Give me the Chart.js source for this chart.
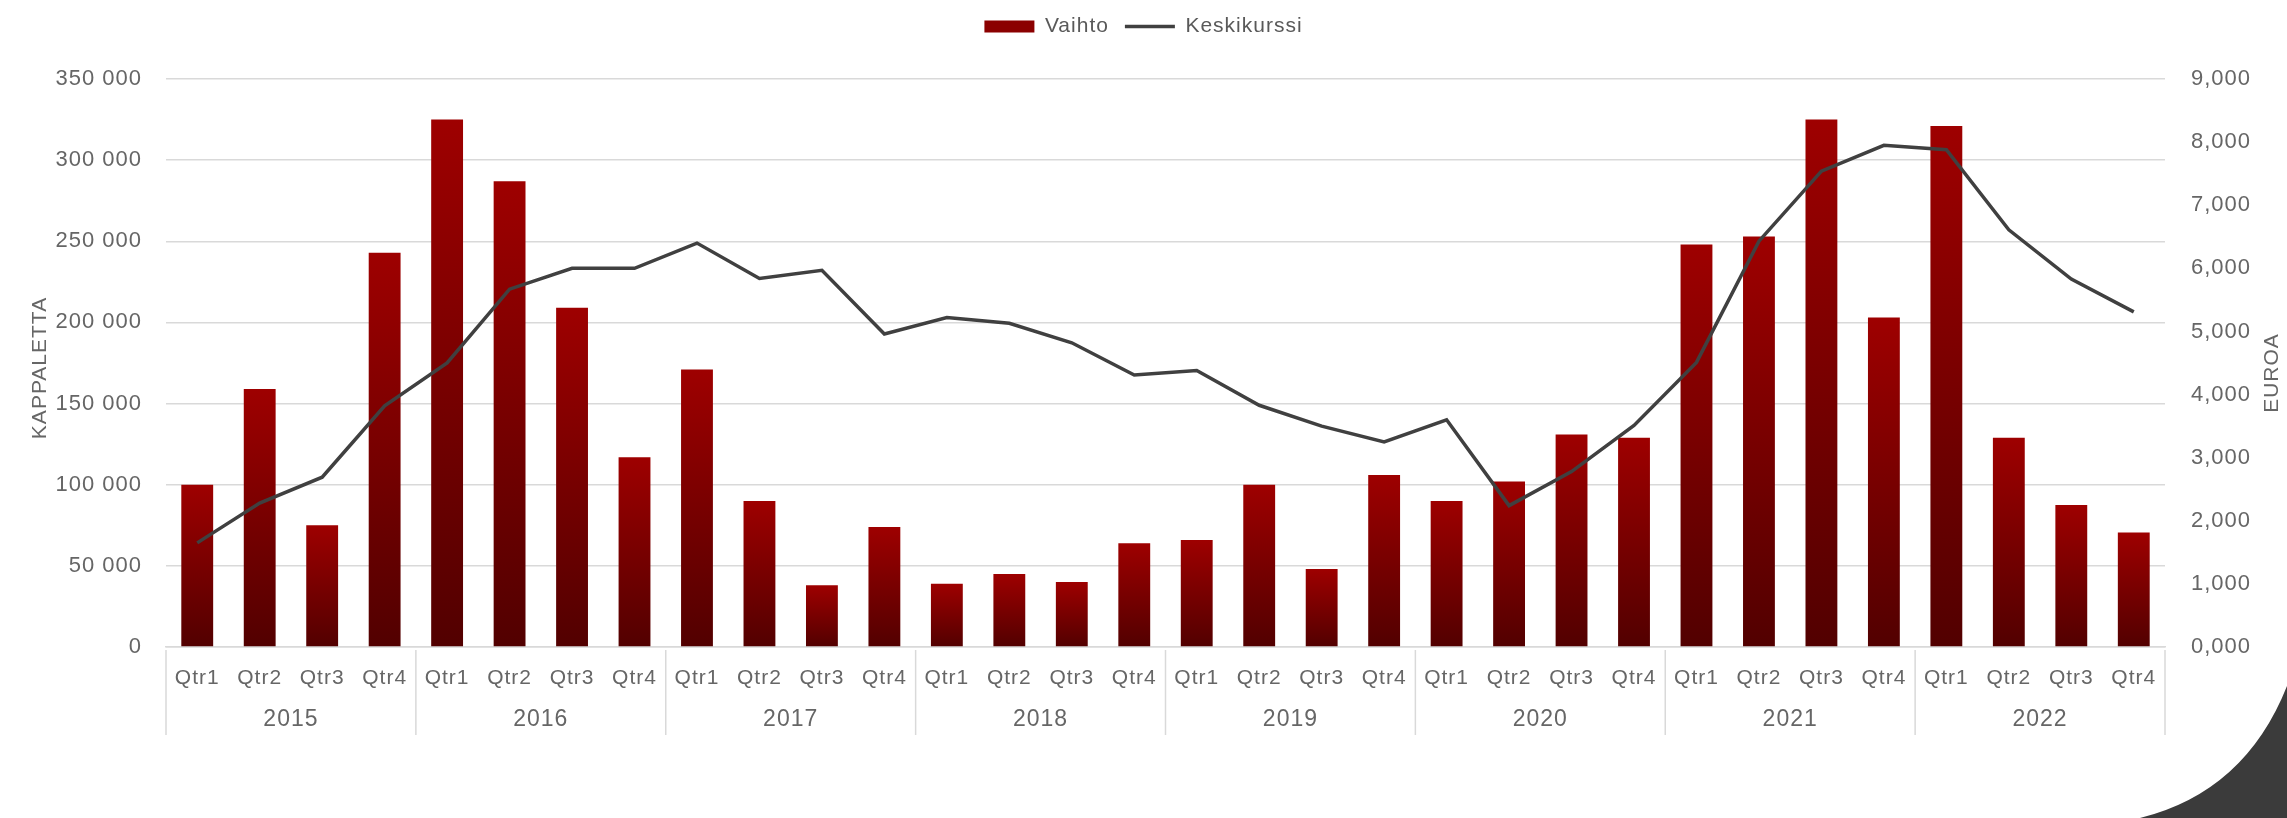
<!DOCTYPE html>
<html>
<head>
<meta charset="utf-8">
<script src="https://cdn.jsdelivr.net/npm/chart.js@4.4.1/dist/chart.umd.min.js"></script>
<style>
  body { margin: 0; background: #fff; }
  canvas { display: block; }
</style>
</head>
<body>
<canvas id="chart" width="2287" height="818"></canvas>
<script>
const years = ['2015', '2016', '2017', '2018', '2019', '2020', '2021', '2022'];
const quarters = ['Qtr1', 'Qtr2', 'Qtr3', 'Qtr4'];

// Vaihto (kpl), neljännesvuosittain 2015 Q1 - 2022 Q4
const vaihto = [
  100000, 159000, 75000, 243000,
  325000, 287000, 209000, 117000,
  171000, 90000, 38000, 74000,
  39000, 45000, 40000, 64000,
  66000, 100000, 48000, 106000,
  90000, 102000, 131000, 129000,
  248000, 253000, 325000, 203000,
  321000, 129000, 87500, 70500
];

// Keskikurssi (euroa)
const keskikurssi = [
  1.65, 2.28, 2.69, 3.82,
  4.50, 5.67, 6.00, 6.00,
  6.40, 5.84, 5.97, 4.96,
  5.22, 5.13, 4.82, 4.31,
  4.38, 3.83, 3.50, 3.25,
  3.60, 2.24, 2.78, 3.51,
  4.51, 6.43, 7.54, 7.95,
  7.88, 6.61, 5.83, 5.31
];

const leftTicks = [0, 50000, 100000, 150000, 200000, 250000, 300000, 350000];
const rightTicks = [0, 1, 2, 3, 4, 5, 6, 7, 8, 9];

const quarterLabels = years.flatMap(() => quarters);

const FONT = '"Liberation Sans Narrow", "Arial Narrow", sans-serif';
const GREY = '#666666';

function spaced(v) {
  return String(v).replace(/\B(?=(\d{3})+(?!\d))/g, ' ');
}

function barGradient(c) {
  const chart = c.chart;
  if (!chart.chartArea || c.type !== 'data') return '#8b0000';
  const y = chart.scales.y;
  const top = y.getPixelForValue(c.raw);
  const bottom = y.getPixelForValue(0);
  const g = chart.ctx.createLinearGradient(0, top, 0, bottom);
  g.addColorStop(0, '#9e0000');
  g.addColorStop(1, '#520000');
  return g;
}

// more room under the legend
const legendGap = {
  id: 'legendGap',
  beforeInit(chart) {
    const fit = chart.legend.fit;
    chart.legend.fit = function () {
      fit.call(this);
      this.height += 32;
    };
  }
};

const extras = {
  id: 'extras',
  beforeLayout(chart) { chart.ctx.letterSpacing = '1px'; },
  beforeDraw(chart) { chart.ctx.letterSpacing = '1px'; },
  afterDraw(chart) {
    const { ctx, chartArea, scales } = chart;
    const x = scales.x;
    ctx.save();
    // year separators
    ctx.strokeStyle = '#d9d9d9';
    ctx.lineWidth = 1.5;
    for (let i = 0; i <= years.length; i++) {
      let px;
      if (i === 0) px = x.left;
      else if (i === years.length) px = x.right;
      else px = (x.getPixelForValue(i * 4 - 1) + x.getPixelForValue(i * 4)) / 2;
      ctx.beginPath();
      ctx.moveTo(px, chartArea.bottom + 3);
      ctx.lineTo(px, 735);
      ctx.stroke();
    }
    // axis titles, both read bottom to top
    ctx.fillStyle = GREY;
    ctx.font = '21px ' + FONT;
    ctx.textAlign = 'center';
    ctx.textBaseline = 'middle';
    const cy = (chartArea.top + chartArea.bottom) / 2;
    [['KAPPALETTA', 40, cy + 5], ['EUROA', 2272, cy + 10]].forEach(([t, tx, ty]) => {
      ctx.save();
      ctx.translate(tx, ty);
      ctx.rotate(-Math.PI / 2);
      ctx.fillText(t, 0, 0);
      ctx.restore();
    });
    // dark corner decoration
    ctx.fillStyle = '#3b3b3b';
    ctx.beginPath();
    ctx.moveTo(2287, 686);
    ctx.quadraticCurveTo(2245, 792, 2140, 818);
    ctx.lineTo(2287, 818);
    ctx.closePath();
    ctx.fill();
    ctx.restore();
  }
};

new Chart(document.getElementById('chart'), {
  data: {
    labels: quarterLabels,
    datasets: [
      {
        type: 'bar',
        label: 'Vaihto',
        data: vaihto,
        yAxisID: 'y',
        backgroundColor: barGradient,
        barPercentage: 0.51,
        categoryPercentage: 1.0,
        order: 2
      },
      {
        type: 'line',
        label: 'Keskikurssi',
        data: keskikurssi,
        yAxisID: 'y1',
        borderColor: '#404040',
        backgroundColor: '#404040',
        borderWidth: 3.5,
        pointRadius: 0,
        tension: 0,
        order: 1
      }
    ]
  },
  options: {
    responsive: false,
    devicePixelRatio: 1,
    animation: false,
    layout: { padding: { top: 0, left: 0, right: 0, bottom: 81 } },
    plugins: {
      tooltip: { enabled: false },
      legend: {
        position: 'top',
        labels: {
          usePointStyle: true,
          pointStyleWidth: 50,
          boxHeight: 12,
          padding: 16,
          color: '#595959',
          font: { family: FONT, size: 21 },
          sort: (a, b) => a.datasetIndex - b.datasetIndex,
          generateLabels(chart) {
            const items = Chart.defaults.plugins.legend.labels.generateLabels(chart);
            items.forEach(it => {
              if (it.datasetIndex === 0) {
                it.pointStyle = 'rect';
                it.fillStyle = '#8b0000';
                it.strokeStyle = '#8b0000';
                it.lineWidth = 0;
              } else {
                it.pointStyle = 'line';
                it.strokeStyle = '#404040';
                it.lineWidth = 3.5;
              }
            });
            return items;
          }
        }
      }
    },
    scales: {
      x: {
        position: 'bottom',
        offset: true,
        grid: { display: false, drawTicks: false },
        border: { display: true, color: '#d9d9d9', width: 1.5 },
        ticks: {
          autoSkip: false,
          maxRotation: 0,
          padding: 19,
          color: GREY,
          font: { family: FONT, size: 21 }
        },
        afterFit: s => { s.height = 50; }
      },
      x2: {
        type: 'category',
        position: 'bottom',
        labels: years,
        offset: true,
        grid: { display: false, drawTicks: false },
        border: { display: false },
        ticks: {
          autoSkip: false,
          maxRotation: 0,
          padding: 9,
          color: GREY,
          font: { family: FONT, size: 23 }
        },
        afterFit: s => { s.height = 40; }
      },
      y: {
        position: 'left',
        min: 0,
        max: 350000,
        afterBuildTicks: s => { s.ticks = leftTicks.map(v => ({ value: v })); },
        grid: { color: '#d9d9d9', lineWidth: 1.5, drawTicks: false },
        border: { display: false },
        ticks: {
          padding: 24,
          color: GREY,
          font: { family: FONT, size: 22 },
          callback: v => spaced(v)
        },
        afterFit: s => { s.width = 166; }
      },
      y1: {
        position: 'right',
        min: 0,
        max: 9,
        afterBuildTicks: s => { s.ticks = rightTicks.map(v => ({ value: v })); },
        grid: { display: false, drawTicks: false },
        border: { display: false },
        ticks: {
          padding: 26,
          color: GREY,
          font: { family: FONT, size: 22 },
          callback: v => Number(v).toFixed(3).replace('.', ',')
        },
        afterFit: s => { s.width = 122; }
      }
    }
  },
  plugins: [legendGap, extras]
});
</script>
</body>
</html>
